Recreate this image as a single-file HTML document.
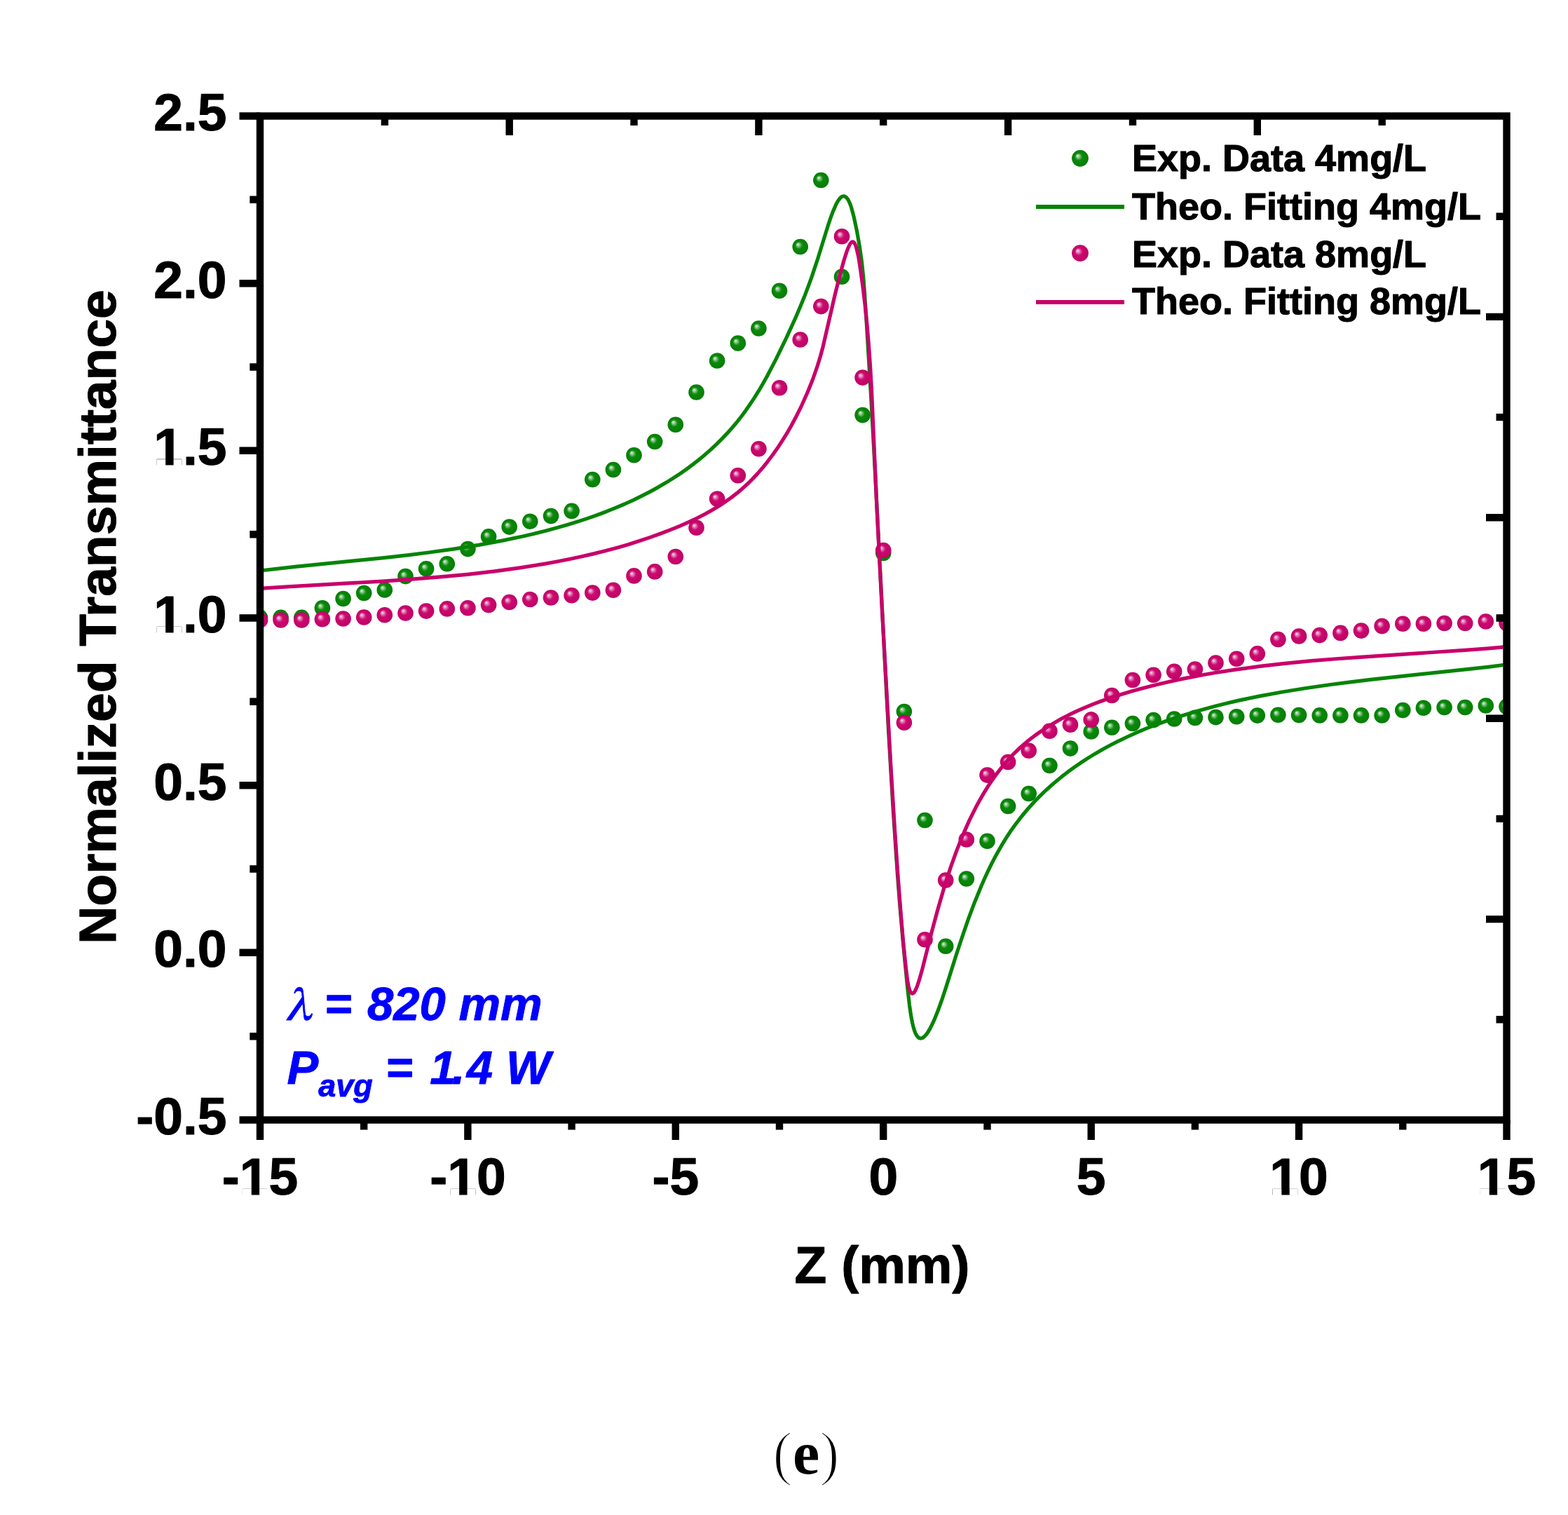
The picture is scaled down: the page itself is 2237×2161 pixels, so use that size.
<!DOCTYPE html>
<html><head><meta charset="utf-8"><title>Z-scan</title>
<style>html,body{margin:0;padding:0;background:#fff;}svg{display:block}</style></head><body>
<svg xmlns="http://www.w3.org/2000/svg" width="2237" height="2161" viewBox="0 0 2237 2161">
<defs>
<radialGradient id="sg" cx="0.5" cy="0.5" r="0.5" fx="0.34" fy="0.34">
<stop offset="0" stop-color="#e8f6e8"/><stop offset="0.22" stop-color="#7cc07c"/><stop offset="0.45" stop-color="#0a8a0a"/><stop offset="1" stop-color="#057d05"/>
</radialGradient>
<radialGradient id="sm" cx="0.5" cy="0.5" r="0.5" fx="0.34" fy="0.34">
<stop offset="0" stop-color="#fbe6f1"/><stop offset="0.22" stop-color="#e07ab0"/><stop offset="0.45" stop-color="#cc0a70"/><stop offset="1" stop-color="#c00066"/>
</radialGradient>
<clipPath id="plotclip"><rect x="371" y="165.5" width="1778.5" height="1432"/></clipPath>
</defs>
<rect width="2237" height="2161" fill="#fff"/>

<g clip-path="url(#plotclip)">
<g fill="url(#sg)">
<circle cx="371.0" cy="880.9" r="11.3"/>
<circle cx="400.6" cy="880.9" r="11.3"/>
<circle cx="430.3" cy="880.9" r="11.3"/>
<circle cx="459.9" cy="867.3" r="11.3"/>
<circle cx="489.6" cy="854.0" r="11.3"/>
<circle cx="519.2" cy="846.0" r="11.3"/>
<circle cx="548.8" cy="841.4" r="11.3"/>
<circle cx="578.5" cy="822.1" r="11.3"/>
<circle cx="608.1" cy="811.3" r="11.3"/>
<circle cx="637.8" cy="804.2" r="11.3"/>
<circle cx="667.4" cy="783.1" r="11.3"/>
<circle cx="697.1" cy="765.4" r="11.3"/>
<circle cx="726.7" cy="751.6" r="11.3"/>
<circle cx="756.3" cy="743.8" r="11.3"/>
<circle cx="786.0" cy="736.1" r="11.3"/>
<circle cx="815.6" cy="728.9" r="11.3"/>
<circle cx="845.3" cy="684.0" r="11.3"/>
<circle cx="874.9" cy="670.0" r="11.3"/>
<circle cx="904.5" cy="649.3" r="11.3"/>
<circle cx="934.2" cy="630.0" r="11.3"/>
<circle cx="963.8" cy="605.7" r="11.3"/>
<circle cx="993.5" cy="559.5" r="11.3"/>
<circle cx="1023.1" cy="514.5" r="11.3"/>
<circle cx="1052.8" cy="489.6" r="11.3"/>
<circle cx="1082.4" cy="468.5" r="11.3"/>
<circle cx="1112.0" cy="414.8" r="11.3"/>
<circle cx="1141.7" cy="352.0" r="11.3"/>
<circle cx="1171.3" cy="257.0" r="11.3"/>
<circle cx="1201.0" cy="394.7" r="11.3"/>
<circle cx="1230.6" cy="592.1" r="11.3"/>
<circle cx="1260.2" cy="789.0" r="11.3"/>
<circle cx="1289.9" cy="1015.0" r="11.3"/>
<circle cx="1319.5" cy="1170.0" r="11.3"/>
<circle cx="1349.2" cy="1349.7" r="11.3"/>
<circle cx="1378.8" cy="1253.5" r="11.3"/>
<circle cx="1408.5" cy="1199.7" r="11.3"/>
<circle cx="1438.1" cy="1150.0" r="11.3"/>
<circle cx="1467.7" cy="1132.0" r="11.3"/>
<circle cx="1497.4" cy="1092.0" r="11.3"/>
<circle cx="1527.0" cy="1067.6" r="11.3"/>
<circle cx="1556.7" cy="1043.5" r="11.3"/>
<circle cx="1586.3" cy="1037.8" r="11.3"/>
<circle cx="1615.9" cy="1032.0" r="11.3"/>
<circle cx="1645.6" cy="1027.1" r="11.3"/>
<circle cx="1675.2" cy="1025.5" r="11.3"/>
<circle cx="1704.9" cy="1023.9" r="11.3"/>
<circle cx="1734.5" cy="1023.1" r="11.3"/>
<circle cx="1764.2" cy="1022.2" r="11.3"/>
<circle cx="1793.8" cy="1020.6" r="11.3"/>
<circle cx="1823.4" cy="1019.8" r="11.3"/>
<circle cx="1853.1" cy="1020.1" r="11.3"/>
<circle cx="1882.7" cy="1020.4" r="11.3"/>
<circle cx="1912.4" cy="1020.4" r="11.3"/>
<circle cx="1942.0" cy="1020.4" r="11.3"/>
<circle cx="1971.6" cy="1020.4" r="11.3"/>
<circle cx="2001.3" cy="1013.1" r="11.3"/>
<circle cx="2030.9" cy="1009.8" r="11.3"/>
<circle cx="2060.6" cy="1009.0" r="11.3"/>
<circle cx="2090.2" cy="1009.0" r="11.3"/>
<circle cx="2119.8" cy="1006.5" r="11.3"/>
<circle cx="2149.5" cy="1008.0" r="11.3"/>
</g>
<path d="M371.3,814.0 L421.0,808.4 L547.9,795.6 L581.6,791.8 L612.1,788.0 L648.9,782.9 L683.1,777.4 L715.4,771.4 L746.0,765.0 L762.3,761.2 L778.2,757.3 L793.7,753.1 L808.7,748.8 L823.4,744.3 L837.7,739.6 L851.6,734.8 L865.1,729.7 L878.2,724.4 L891.0,719.0 L903.5,713.3 L915.6,707.4 L927.4,701.4 L938.8,695.1 L949.9,688.6 L960.7,681.9 L970.3,675.6 L979.6,669.1 L988.6,662.4 L997.4,655.5 L1005.9,648.4 L1014.2,641.1 L1022.2,633.7 L1029.8,626.1 L1037.1,618.4 L1044.2,610.5 L1051.1,602.3 L1057.7,594.0 L1063.9,585.6 L1070.0,576.8 L1076.1,567.6 L1082.3,557.7 L1088.3,547.5 L1094.3,536.7 L1106.8,512.9 L1122.0,481.6 L1135.4,452.3 L1141.6,437.8 L1147.4,423.6 L1152.8,409.3 L1158.1,394.9 L1166.7,369.0 L1181.7,320.5 L1185.3,309.8 L1188.6,301.1 L1192.8,291.5 L1194.8,287.8 L1196.7,284.8 L1198.6,282.5 L1200.4,280.9 L1202.2,280.0 L1203.9,279.8 L1205.8,280.4 L1207.7,281.8 L1209.5,284.1 L1211.2,287.2 L1212.9,291.1 L1214.6,296.0 L1218.1,309.0 L1222.3,328.6 L1226.4,352.0 L1229.5,373.7 L1231.7,394.9 L1233.2,414.0 L1236.3,461.7 L1242.4,562.3 L1248.8,679.3 L1261.8,933.0 L1267.5,1041.0 L1274.0,1151.6 L1280.1,1243.2 L1283.7,1290.3 L1287.9,1338.9 L1294.3,1405.5 L1297.5,1433.8 L1298.9,1443.7 L1300.3,1452.3 L1301.8,1459.8 L1303.4,1466.1 L1305.0,1471.2 L1306.7,1475.2 L1308.6,1478.2 L1310.5,1480.1 L1311.6,1480.7 L1312.8,1481.0 L1313.9,1481.1 L1315.2,1480.8 L1316.4,1480.3 L1317.7,1479.4 L1320.4,1476.9 L1323.3,1473.1 L1326.3,1468.2 L1329.4,1462.1 L1332.8,1454.9 L1338.2,1441.5 L1344.2,1424.8 L1349.7,1408.1 L1364.0,1362.8 L1372.6,1336.7 L1381.5,1310.9 L1390.2,1287.7 L1400.0,1263.7 L1404.9,1252.5 L1410.0,1241.7 L1415.0,1231.4 L1420.2,1221.4 L1425.5,1211.9 L1430.8,1202.8 L1436.5,1193.7 L1442.2,1185.0 L1448.3,1176.5 L1454.6,1168.2 L1461.2,1160.0 L1468.0,1152.0 L1475.1,1144.3 L1482.5,1136.6 L1490.1,1129.2 L1498.0,1122.0 L1506.1,1114.9 L1514.6,1107.9 L1523.3,1101.2 L1532.3,1094.6 L1541.5,1088.3 L1551.0,1082.1 L1561.8,1075.4 L1572.9,1069.0 L1584.4,1062.8 L1596.1,1056.8 L1608.3,1051.0 L1620.7,1045.4 L1633.5,1039.9 L1646.7,1034.7 L1660.2,1029.7 L1674.2,1024.8 L1688.5,1020.2 L1703.1,1015.7 L1718.2,1011.4 L1733.7,1007.2 L1749.7,1003.3 L1766.1,999.4 L1796.2,993.1 L1828.2,987.2 L1862.0,981.7 L1898.4,976.5 L1926.8,972.8 L1957.7,969.1 L2093.1,954.7 L2123.0,951.3 L2149.1,948.0" fill="none" stroke="#068406" stroke-width="5.2" stroke-linejoin="round"/>
<g fill="url(#sm)">
<circle cx="371.0" cy="884.5" r="11.3"/>
<circle cx="400.6" cy="884.5" r="11.3"/>
<circle cx="430.3" cy="884.5" r="11.3"/>
<circle cx="459.9" cy="883.2" r="11.3"/>
<circle cx="489.6" cy="882.5" r="11.3"/>
<circle cx="519.2" cy="880.5" r="11.3"/>
<circle cx="548.8" cy="877.2" r="11.3"/>
<circle cx="578.5" cy="874.5" r="11.3"/>
<circle cx="608.1" cy="871.6" r="11.3"/>
<circle cx="637.8" cy="868.4" r="11.3"/>
<circle cx="667.4" cy="867.2" r="11.3"/>
<circle cx="697.1" cy="863.0" r="11.3"/>
<circle cx="726.7" cy="859.0" r="11.3"/>
<circle cx="756.3" cy="855.0" r="11.3"/>
<circle cx="786.0" cy="852.5" r="11.3"/>
<circle cx="815.6" cy="849.2" r="11.3"/>
<circle cx="845.3" cy="845.6" r="11.3"/>
<circle cx="874.9" cy="841.7" r="11.3"/>
<circle cx="904.5" cy="821.4" r="11.3"/>
<circle cx="934.2" cy="815.4" r="11.3"/>
<circle cx="963.8" cy="794.0" r="11.3"/>
<circle cx="993.5" cy="752.8" r="11.3"/>
<circle cx="1023.1" cy="711.6" r="11.3"/>
<circle cx="1052.8" cy="678.3" r="11.3"/>
<circle cx="1082.4" cy="640.2" r="11.3"/>
<circle cx="1112.0" cy="553.2" r="11.3"/>
<circle cx="1141.7" cy="484.5" r="11.3"/>
<circle cx="1171.3" cy="437.1" r="11.3"/>
<circle cx="1201.0" cy="337.2" r="11.3"/>
<circle cx="1230.6" cy="538.6" r="11.3"/>
<circle cx="1260.2" cy="785.0" r="11.3"/>
<circle cx="1289.9" cy="1030.8" r="11.3"/>
<circle cx="1319.5" cy="1340.2" r="11.3"/>
<circle cx="1349.2" cy="1255.6" r="11.3"/>
<circle cx="1378.8" cy="1197.5" r="11.3"/>
<circle cx="1408.5" cy="1105.6" r="11.3"/>
<circle cx="1438.1" cy="1087.0" r="11.3"/>
<circle cx="1467.7" cy="1070.8" r="11.3"/>
<circle cx="1497.4" cy="1042.8" r="11.3"/>
<circle cx="1527.0" cy="1033.8" r="11.3"/>
<circle cx="1556.7" cy="1026.4" r="11.3"/>
<circle cx="1586.3" cy="992.0" r="11.3"/>
<circle cx="1615.9" cy="970.0" r="11.3"/>
<circle cx="1645.6" cy="962.7" r="11.3"/>
<circle cx="1675.2" cy="957.8" r="11.3"/>
<circle cx="1704.9" cy="954.5" r="11.3"/>
<circle cx="1734.5" cy="945.5" r="11.3"/>
<circle cx="1764.2" cy="939.8" r="11.3"/>
<circle cx="1793.8" cy="932.4" r="11.3"/>
<circle cx="1823.4" cy="912.0" r="11.3"/>
<circle cx="1853.1" cy="907.5" r="11.3"/>
<circle cx="1882.7" cy="906.1" r="11.3"/>
<circle cx="1912.4" cy="902.9" r="11.3"/>
<circle cx="1942.0" cy="899.6" r="11.3"/>
<circle cx="1971.6" cy="893.1" r="11.3"/>
<circle cx="2001.3" cy="889.8" r="11.3"/>
<circle cx="2030.9" cy="889.8" r="11.3"/>
<circle cx="2060.6" cy="889.0" r="11.3"/>
<circle cx="2090.2" cy="889.0" r="11.3"/>
<circle cx="2119.8" cy="886.5" r="11.3"/>
<circle cx="2149.5" cy="889.0" r="11.3"/>
</g>
<path d="M371.1,839.4 L414.5,836.6 L546.0,829.1 L587.8,826.2 L625.4,823.2 L666.9,819.3 L705.5,814.9 L741.9,809.9 L776.5,804.4 L794.8,801.0 L812.6,797.5 L830.0,793.8 L846.9,789.9 L863.5,785.7 L879.7,781.4 L895.4,776.9 L910.8,772.1 L926.3,766.9 L941.4,761.5 L956.1,755.9 L970.4,750.1 L983.2,744.4 L995.1,738.8 L1006.3,733.0 L1016.8,727.1 L1026.1,721.5 L1034.9,715.7 L1043.4,709.6 L1051.4,703.4 L1059.1,696.9 L1066.4,690.3 L1073.7,683.1 L1080.9,675.4 L1088.1,667.1 L1095.2,658.3 L1102.2,649.0 L1109.1,639.3 L1115.7,629.2 L1122.3,618.7 L1128.6,607.8 L1134.6,596.6 L1143.5,578.8 L1151.7,560.5 L1159.2,542.0 L1165.7,523.5 L1170.2,509.0 L1174.2,494.2 L1191.1,420.8 L1197.8,394.1 L1203.6,372.8 L1207.9,359.1 L1209.8,354.1 L1211.6,350.2 L1213.2,347.3 L1214.7,345.6 L1216.1,344.9 L1216.8,344.9 L1217.4,345.2 L1218.7,346.3 L1219.9,348.4 L1221.1,351.4 L1222.2,355.3 L1224.6,365.7 L1227.0,380.5 L1230.7,407.0 L1234.0,434.0 L1236.8,461.4 L1239.2,489.7 L1241.5,521.4 L1243.5,556.6 L1250.6,717.2 L1258.2,865.8 L1271.1,1096.9 L1276.9,1189.9 L1280.9,1247.6 L1285.1,1302.5 L1288.5,1342.1 L1291.8,1375.2 L1294.2,1395.0 L1295.2,1401.8 L1296.3,1407.1 L1297.5,1411.5 L1298.7,1414.6 L1300.1,1416.5 L1300.8,1417.0 L1301.5,1417.2 L1302.5,1416.9 L1303.6,1416.1 L1304.8,1414.6 L1306.0,1412.5 L1308.6,1406.4 L1311.5,1397.6 L1316.0,1381.7 L1329.2,1329.4 L1338.1,1296.5 L1347.2,1265.1 L1356.4,1236.6 L1364.9,1213.1 L1373.7,1191.1 L1382.7,1170.6 L1392.2,1151.6 L1397.8,1141.3 L1403.5,1131.4 L1409.4,1121.9 L1415.4,1112.9 L1421.5,1104.3 L1427.8,1096.1 L1434.3,1088.3 L1441.0,1080.8 L1447.7,1073.8 L1454.8,1067.0 L1462.2,1060.5 L1470.0,1054.1 L1478.1,1048.0 L1486.5,1042.1 L1495.2,1036.4 L1504.3,1030.9 L1514.5,1025.1 L1525.0,1019.7 L1536.1,1014.4 L1547.6,1009.3 L1559.6,1004.4 L1572.0,999.7 L1585.1,995.1 L1598.8,990.7 L1613.5,986.3 L1629.1,982.0 L1645.5,977.7 L1662.3,973.7 L1679.2,969.9 L1696.6,966.4 L1714.3,963.0 L1732.5,959.8 L1764.2,954.9 L1797.5,950.4 L1832.8,946.4 L1870.6,942.7 L1903.5,940.0 L1940.3,937.3 L2090.3,927.4 L2121.0,925.1 L2149.0,922.7" fill="none" stroke="#c8006a" stroke-width="5.2" stroke-linejoin="round"/>
</g>
<rect x="371.0" y="165.5" width="1778.5" height="1432.0" fill="none" stroke="#000" stroke-width="10.4" stroke-linecap="square"/>
<path d="M341.5,165.5H371.0 M356.3,284.8H371.0 M341.5,404.2H371.0 M356.3,523.5H371.0 M341.5,642.8H371.0 M356.3,762.2H371.0 M341.5,881.5H371.0 M356.3,1000.8H371.0 M341.5,1120.2H371.0 M356.3,1239.5H371.0 M341.5,1358.8H371.0 M356.3,1478.2H371.0 M341.5,1597.5H371.0 M371.0,1597.5V1626.0 M519.2,1597.5V1611.5 M667.4,1597.5V1626.0 M815.6,1597.5V1611.5 M963.8,1597.5V1626.0 M1112.0,1597.5V1611.5 M1260.2,1597.5V1626.0 M1408.5,1597.5V1611.5 M1556.7,1597.5V1626.0 M1704.9,1597.5V1611.5 M1853.1,1597.5V1626.0 M2001.3,1597.5V1611.5 M2149.5,1597.5V1626.0 M548.9,165.5V179.0 M726.7,165.5V193.0 M904.5,165.5V179.0 M1082.4,165.5V193.0 M1260.2,165.5V179.0 M1438.1,165.5V193.0 M1616.0,165.5V179.0 M1793.8,165.5V193.0 M1971.7,165.5V179.0 M2149.5,308.7H2134.5 M2149.5,451.9H2120.0 M2149.5,595.1H2134.5 M2149.5,738.3H2120.0 M2149.5,881.5H2134.5 M2149.5,1024.7H2120.0 M2149.5,1167.9H2134.5 M2149.5,1311.1H2120.0 M2149.5,1454.3H2134.5" stroke="#000" stroke-width="10.4" fill="none"/>
<g font-family="Liberation Sans, Arial, sans-serif" font-weight="bold" stroke="#000" stroke-width="1.1" stroke-linejoin="round" font-size="75" fill="#000">
<text x="219.24 260.95 281.79" y="186.1">2.5</text>
<text x="219.24 260.95 281.79" y="424.8">2.0</text>
<text x="219.24 260.95 281.79" y="663.4">1.5</text>
<text x="219.24 260.95 281.79" y="902.1">1.0</text>
<text x="219.24 260.95 281.79" y="1140.8">0.5</text>
<text x="219.24 260.95 281.79" y="1379.4">0.0</text>
<text x="194.26 219.24 260.95 281.79" y="1618.1">-0.5</text>
<text x="316.80 341.78 383.49" y="1704.0">-15</text>
<text x="613.22 638.19 679.90" y="1704.0">-10</text>
<text x="930.49 955.47" y="1704.0">-5</text>
<text x="1239.39" y="1704.0">0</text>
<text x="1535.81" y="1704.0">5</text>
<text x="1811.37 1853.08" y="1704.0">10</text>
<text x="2107.79 2149.50" y="1704.0">15</text>
</g>
<g fill="#fff"><rect x="223.36" y="655.18" width="12.83" height="9.35"/><rect x="247.59" y="655.18" width="11.88" height="9.35"/><rect x="223.36" y="893.85" width="12.83" height="9.35"/><rect x="247.59" y="893.85" width="11.88" height="9.35"/><rect x="345.90" y="1695.75" width="12.83" height="9.35"/><rect x="370.12" y="1695.75" width="11.88" height="9.35"/><rect x="642.32" y="1695.75" width="12.83" height="9.35"/><rect x="666.54" y="1695.75" width="11.88" height="9.35"/><rect x="1815.50" y="1695.75" width="12.83" height="9.35"/><rect x="1839.72" y="1695.75" width="11.88" height="9.35"/><rect x="2111.91" y="1695.75" width="12.83" height="9.35"/><rect x="2136.13" y="1695.75" width="11.88" height="9.35"/></g>
<text font-family="Liberation Sans, Arial, sans-serif" font-weight="bold" stroke="#000" stroke-width="1.1" stroke-linejoin="round" font-size="75" text-anchor="middle" x="1258.5" y="1830">Z (mm)</text>
<text font-family="Liberation Sans, Arial, sans-serif" font-weight="bold" stroke="#000" stroke-width="1.1" stroke-linejoin="round" font-size="75" text-anchor="middle" transform="translate(165,880) rotate(-90)">Normalized Transmittance</text>
<g font-family="Liberation Sans, Arial, sans-serif" font-weight="bold" stroke="#000" stroke-width="1.1" stroke-linejoin="round" font-size="54" fill="#000">
<text x="1615" y="243.6">Exp. Data 4mg/L</text>
<text x="1615" y="312.5">Theo. Fitting 4mg/L</text>
<text x="1615" y="380.5">Exp. Data 8mg/L</text>
<text x="1615" y="447.9">Theo. Fitting 8mg/L</text>
</g>
<circle cx="1541" cy="225.8" r="11.9" fill="url(#sg)"/>
<circle cx="1541" cy="361.1" r="11.9" fill="url(#sm)"/>
<path d="M1478,295H1604" stroke="#068406" stroke-width="6"/>
<path d="M1478,431H1604" stroke="#c8006a" stroke-width="6"/>
<g font-family="Liberation Sans, Arial, sans-serif" font-weight="bold" font-style="italic" fill="#0000ff" stroke="#0000ff" stroke-width="0.9" stroke-linejoin="round" font-size="67">
<text x="407.2" y="1455" font-family="OpenSymbol, Liberation Serif, serif" font-weight="normal">λ</text>
<text x="462.7" y="1455">=</text>
<text x="524" y="1455">820 mm</text>
<text x="409.4" y="1546">P</text>
<text x="454.3" y="1564" font-size="45">avg</text>
<text x="549.9" y="1546">=</text>
<text x="613.3" y="1546">1<tspan dx="-5.75">.</tspan><tspan dx="2.3">4</tspan></text>
<text x="722" y="1546">W</text>
</g>
<text x="1150" y="2102" text-anchor="middle" font-family="Liberation Serif, Times New Roman, serif" font-size="86" fill="#000" stroke="#fff" stroke-width="2.4">(<tspan font-weight="bold" stroke="none">e</tspan>)</text>
</svg></body></html>
